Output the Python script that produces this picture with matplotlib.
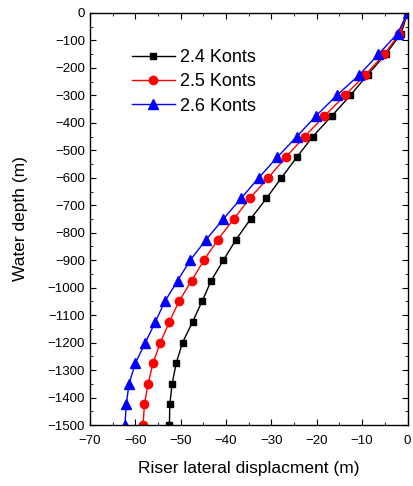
import matplotlib.pyplot as plt
import numpy as np

plt.rcParams['font.family'] = ['Liberation Sans', 'DejaVu Sans']

depth = np.arange(0, -1501, -75)

disp_24 = [0, -1.4, -4.8, -8.8, -12.6, -16.7, -20.9, -24.4, -27.8, -31.1, -34.6,
           -37.8, -40.6, -43.3, -45.3, -47.4, -49.6, -51.0, -51.9, -52.4, -52.5]
disp_25 = [0, -1.8, -5.1, -9.3, -13.8, -18.3, -22.7, -26.8, -30.7, -34.8, -38.3,
           -41.8, -44.9, -47.6, -50.4, -52.5, -54.5, -56.1, -57.2, -58.0, -58.3]
disp_26 = [0, -2.2, -6.4, -10.6, -15.6, -20.2, -24.4, -28.7, -32.8, -36.7, -40.6,
           -44.4, -47.9, -50.7, -53.5, -55.6, -57.8, -60.0, -61.4, -62.0, -62.3]

fig = plt.figure(figsize=(4.14, 4.86), dpi=100)
ax = fig.add_axes([0.2174, 0.1255, 0.7669, 0.8478])

ax.plot(disp_24, depth, color='black', marker='s', markersize=5, lw=1, label='2.4 Konts')
ax.plot(disp_25, depth, color='red', marker='o', markersize=6, lw=1, label='2.5 Konts')
ax.plot(disp_26, depth, color='blue', marker='^', markersize=6.5, lw=1, label='2.6 Konts')

ax.set_xlim(-70, 0)
ax.set_ylim(-1500, 0)
ax.set_xticks(np.arange(-70, 1, 10))
ax.set_yticks(np.arange(-1500, 1, 100))
ax.minorticks_on()
ax.set_xticks(np.arange(-70, 1, 5), minor=True)
ax.set_yticks(np.arange(-1500, 1, 50), minor=True)
ax.tick_params(which='both', direction='in', top=True, right=True, labelsize=9.5)
ax.tick_params(axis='x', which='major', pad=7)
ax.tick_params(which='major', length=4)
ax.tick_params(which='minor', length=2)
for s in ax.spines.values():
    s.set_linewidth(1)

ax.set_xlabel('Riser lateral displacment (m)', fontsize=12.5, labelpad=10)
ax.set_ylabel('Water depth (m)', fontsize=12.5, labelpad=14)

ax.legend(loc='center left', bbox_to_anchor=(0.08, 0.833), frameon=False,
          fontsize=13, handlelength=2.4, labelspacing=0.4, handletextpad=0.3)

fig.savefig('out.png', dpi=100)
